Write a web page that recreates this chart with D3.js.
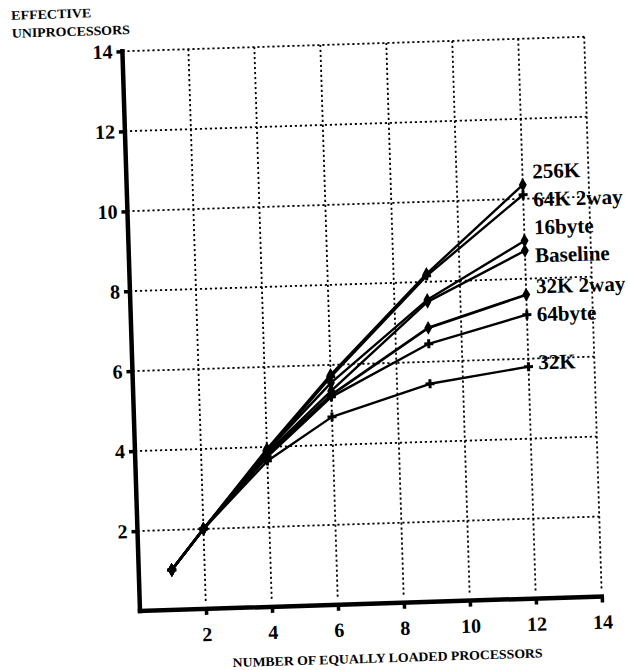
<!DOCTYPE html>
<html>
<head>
<meta charset="utf-8">
<script src="https://cdn.jsdelivr.net/npm/d3@7"></script>
<style>
  body { margin: 0; background: #fff; }
  svg { display: block; }
  .tick text { font-family: "Liberation Serif", "DejaVu Serif", serif; font-weight: bold; }
</style>
</head>
<body>
<script>
// processors on the x axis
var procs = [1, 2, 4, 6, 9, 12];
var xTicks = [2, 4, 6, 8, 10, 12, 14];
var yTicks = [2, 4, 6, 8, 10, 12, 14];

var seriesNames = ["256K", "64K 2way", "16byte", "Baseline", "32K 2way", "64byte", "32K"];
var v256K    = [1, 2, 3.95, 5.75, 8.2, 10.35];
var v64K2way = [1, 2, 3.9, 5.7, 8.15, 10.1];
var v16byte  = [1, 2, 3.9, 5.55, 7.55, 8.95];
var vBase    = [1, 2, 3.85, 5.35, 7.5, 8.7];
var v32K2way = [1, 2, 3.8, 5.25, 6.85, 7.6];
var v64byte  = [1, 2, 3.75, 5.2, 6.45, 7.1];
var v32K     = [1, 2, 3.65, 4.7, 5.45, 5.8];

var seriesValues = [v256K, v64K2way, v16byte, vBase, v32K2way, v64byte, v32K];
var markerKind = ["diamond", "cross", "diamond", "diamond", "diamond", "cross", "cross"];

var W = 629, H = 670;
var plotW = 462, plotH = 560;
var serif = '"Liberation Serif", "DejaVu Serif", serif';

var svg = d3.select("body").append("svg").attr("width", W).attr("height", H);
svg.append("rect").attr("width", W).attr("height", H).attr("fill", "#fff");

// the scanned page is a little tilted, so the whole chart is turned slightly
var g = svg.append("g").attr("transform", "translate(140,611) rotate(-1.8)");

var x = d3.scaleLinear().domain([0, 14]).range([0, plotW]);
var y = d3.scaleLinear().domain([0, 14]).range([0, -plotH]);

//Grid
g.selectAll(".vgrid").data(xTicks).enter().append("line")
    .attr("class", "vgrid")
    .attr("x1", function(d) { return x(d); }).attr("x2", function(d) { return x(d); })
    .attr("y1", y(0.2)).attr("y2", y(14))
    .attr("stroke", "#000").attr("stroke-width", 1.8).attr("stroke-dasharray", "2.2,2.8");

g.selectAll(".hgrid").data(yTicks).enter().append("line")
    .attr("class", "hgrid")
    .attr("x1", x(0)).attr("x2", x(14))
    .attr("y1", function(d) { return y(d); }).attr("y2", function(d) { return y(d); })
    .attr("stroke", "#000").attr("stroke-width", 1.8).attr("stroke-dasharray", "2.2,2.8");

//Axes
var xAxis = g.append("g").attr("class", "x-axis")
    .call(d3.axisBottom(x).tickValues(xTicks).tickSize(6).tickPadding(12));
var yAxis = g.append("g").attr("class", "y-axis")
    .call(d3.axisLeft(y).tickValues(yTicks).tickSize(6).tickPadding(4));

[xAxis, yAxis].forEach(function(ax) {
    ax.select(".domain").remove();
    ax.attr("font-family", serif).attr("font-size", 20);
    ax.selectAll(".tick line").attr("stroke", "#000").attr("stroke-width", 3.5);
    ax.selectAll(".tick text").attr("fill", "#000");
});

g.append("line").attr("x1", x(0)).attr("x2", x(14)).attr("y1", y(0)).attr("y2", y(0))
    .attr("stroke", "#000").attr("stroke-width", 4.5).attr("stroke-linecap", "square");
g.append("line").attr("x1", x(0)).attr("x2", x(0)).attr("y1", y(0)).attr("y2", y(14))
    .attr("stroke", "#000").attr("stroke-width", 4.5).attr("stroke-linecap", "square");

//Lines
var line = d3.line()
    .x(function(d) { return x(d[0]); })
    .y(function(d) { return y(d[1]); });

var series = seriesNames.map(function(name, i) {
    return {
        name: name,
        marker: markerKind[i],
        points: procs.map(function(p, j) { return [p, seriesValues[i][j]]; })
    };
});

var sg = g.selectAll(".series").data(series).enter().append("g").attr("class", "series");

sg.append("path")
    .attr("d", function(d) { return line(d.points); })
    .attr("fill", "none")
    .attr("stroke", "#000")
    .attr("stroke-width", function(d) { return d.name == "32K 2way" ? 2.8 : 2.4; })
    .attr("stroke-linejoin", "round");

sg.each(function(s) {
    var sym = d3.symbol().type(s.marker == "cross" ? d3.symbolCross : d3.symbolDiamond).size(s.marker == "cross" ? 45 : 55);
    d3.select(this).selectAll(".pt").data(s.points).enter().append("path")
        .attr("class", "pt")
        .attr("d", sym)
        .attr("transform", function(d) { return "translate(" + x(d[0]) + "," + y(d[1]) + ")"; })
        .attr("fill", "#000");
});

//Series labels, spread apart so they don't collide
var labels = series.map(function(s) {
    var last = s.points[s.points.length - 1];
    return { name: s.name, x: x(last[0]) + 10, y: y(last[1]) };
}).sort(function(a, b) { return a.y - b.y; });

var gap = 28;
for (var it = 0; it < 60; it++) {
    for (var k = 1; k < labels.length; k++) {
        var a = labels[k - 1], b = labels[k];
        if (b.y - a.y < gap) {
            var shift = (gap - (b.y - a.y)) / 2;
            a.y -= shift;
            b.y += shift;
        }
    }
}

g.selectAll(".series-label").data(labels).enter().append("text")
    .attr("class", "series-label")
    .attr("x", function(d) { return d.x; })
    .attr("y", function(d) { return d.y - 4; })
    .attr("dy", "0.33em")
    .attr("font-family", serif)
    .attr("font-weight", "bold")
    .attr("font-size", 21)
    .attr("fill", "#000")
    .text(function(d) { return d.name; });

//Axis titles
g.append("text")
    .attr("x", -110).attr("y", -595)
    .attr("font-family", serif).attr("font-weight", "bold").attr("font-size", 13)
    .attr("textLength", 80).attr("lengthAdjust", "spacingAndGlyphs")
    .text("EFFECTIVE");
g.append("text")
    .attr("x", -110).attr("y", -577)
    .attr("font-family", serif).attr("font-weight", "bold").attr("font-size", 13)
    .attr("textLength", 118).attr("lengthAdjust", "spacingAndGlyphs")
    .text("UNIPROCESSORS");
g.append("text")
    .attr("x", 246).attr("y", 59)
    .attr("text-anchor", "middle")
    .attr("font-family", serif).attr("font-weight", "bold").attr("font-size", 13)
    .attr("textLength", 310).attr("lengthAdjust", "spacingAndGlyphs")
    .text("NUMBER OF EQUALLY LOADED PROCESSORS");
</script>
</body>
</html>
